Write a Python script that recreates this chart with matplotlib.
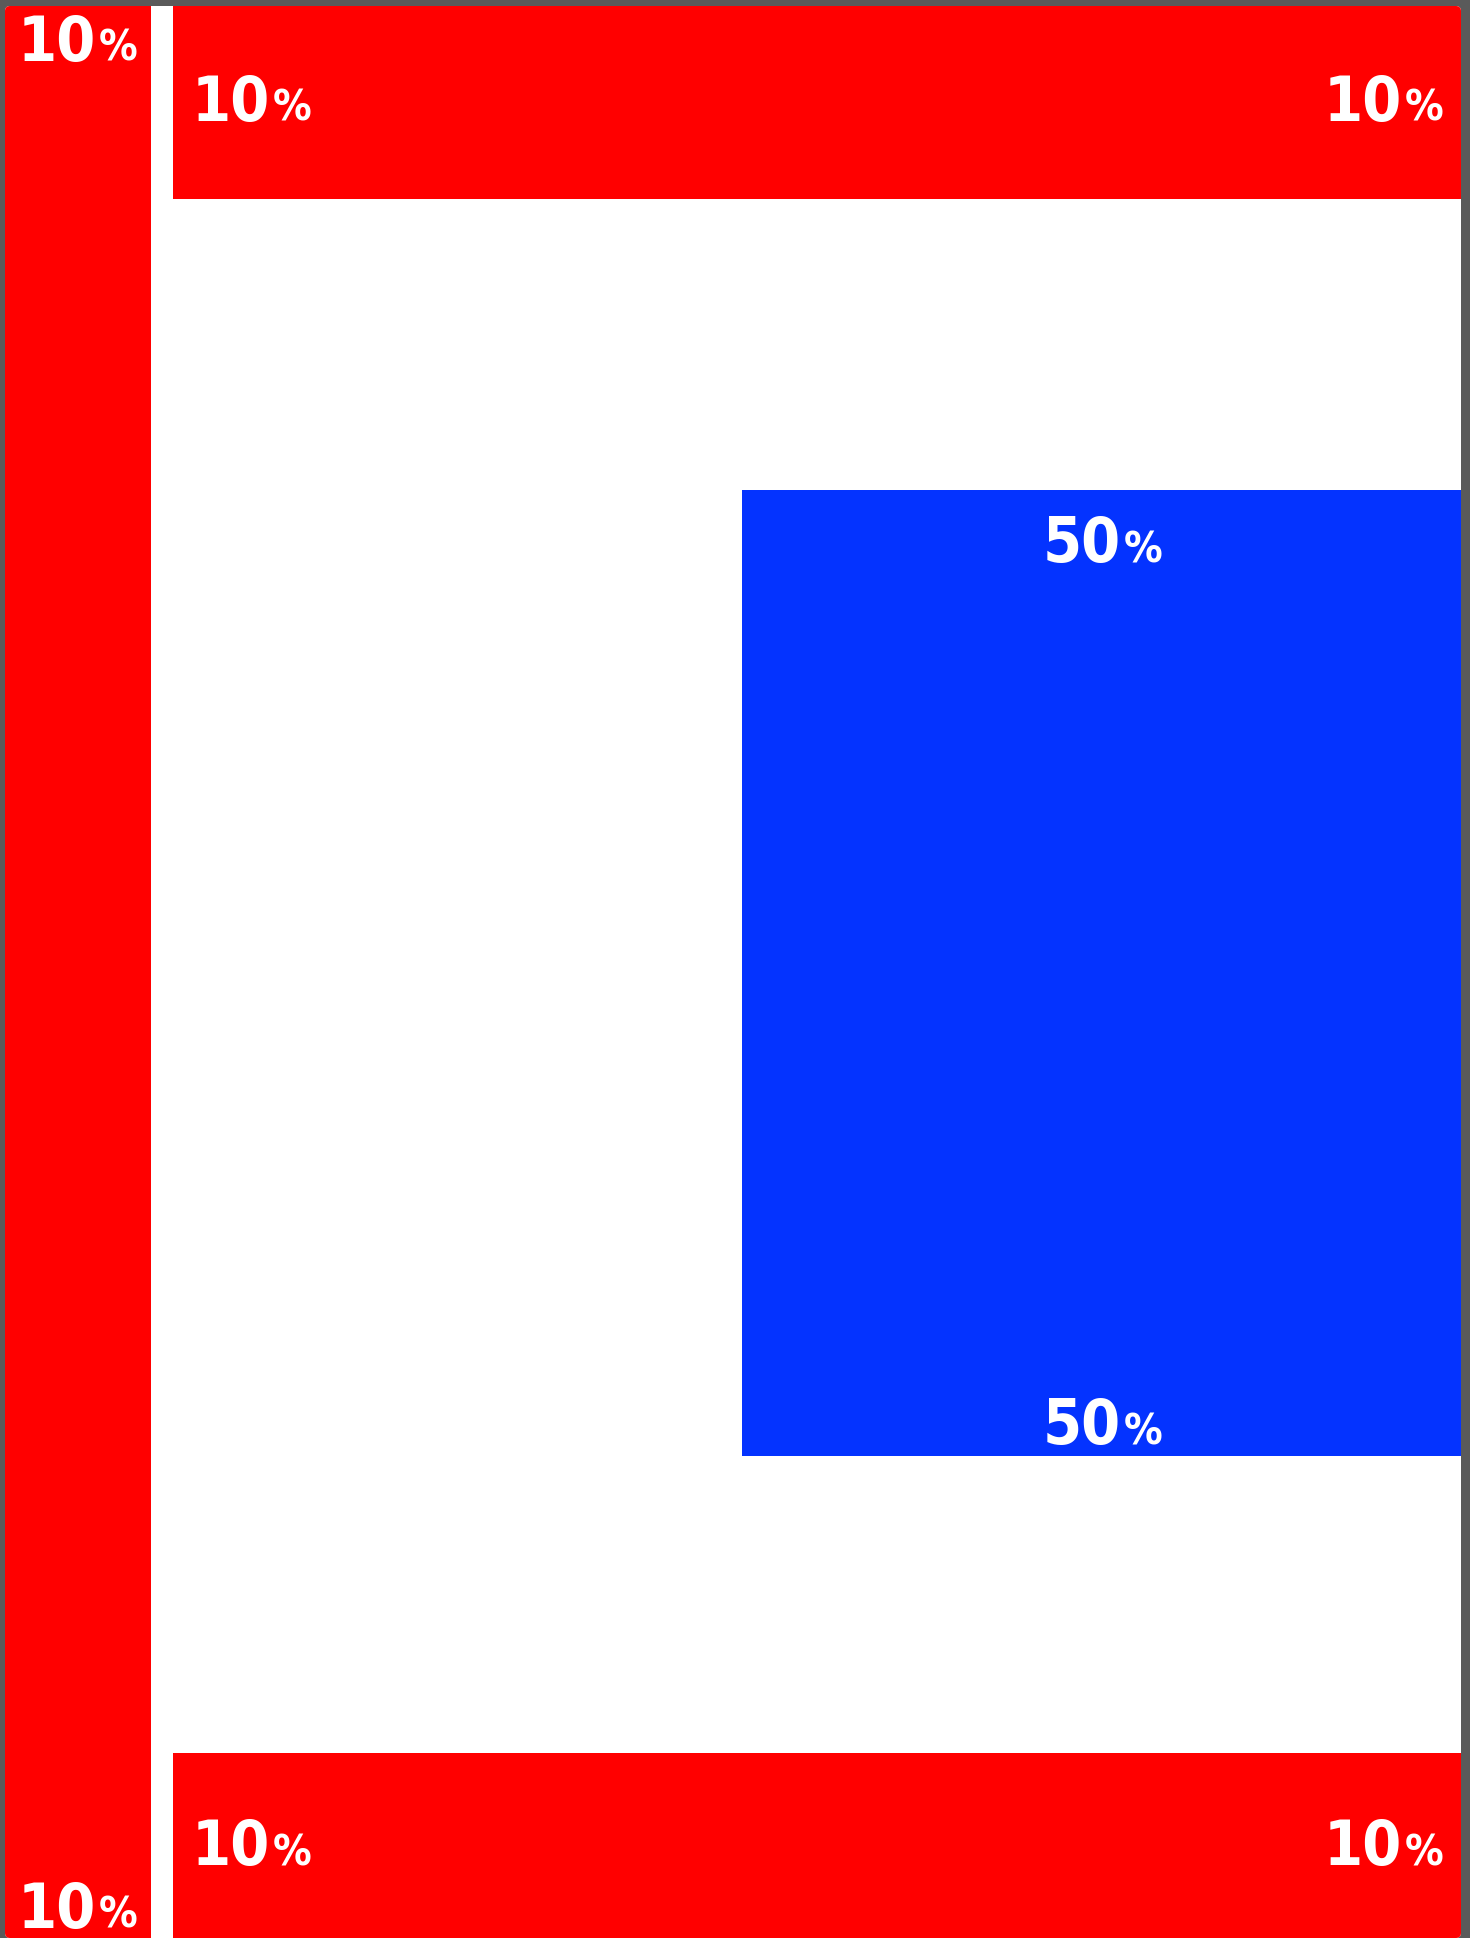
import matplotlib
matplotlib.use('Agg')
import matplotlib.pyplot as plt
from matplotlib.patches import Rectangle, FancyBboxPatch
from matplotlib.offsetbox import TextArea, HPacker, AnnotationBbox

###  DATA  ###

# share of the page taken by each block (percent)
blocks = ['left', 'top', 'bottom', 'center']
shares = [10, 10, 10, 50]
colors = ['#ff0000', '#ff0000', '#ff0000', '#0433ff']

# page edges in figure pixels
W, H = 1470, 1938
page_l, page_r, page_t, page_b = 5, 1461, 6, 1938

fig = plt.figure(figsize=(W/100., H/100.), dpi=100)
fig.patch.set_facecolor('#5a5a5a')
ax = fig.add_axes([page_l/W, 1-page_b/H, (page_r-page_l)/W, (page_b-page_t)/H])
ax.set_xlim(0, 100)
ax.set_ylim(100, 0)
ax.axis('off')

page = FancyBboxPatch((0, 0), 100, 100, boxstyle='round,pad=0,rounding_size=0.35',
                      fc='white', ec='none', mutation_aspect=1455/1932.)
ax.add_patch(page)

# block geometry (x0, y0, width, height) in page percent
s = dict(zip(blocks, shares))
c = dict(zip(blocks, colors))
geom = {
    'left':   (0, 0, s['left'], 100),
    'top':    (11.55, 0, 100-11.55, s['top']),
    'bottom': (11.55, 100-9.6, 100-11.55, 9.6),
    'center': (100-49.35, 25.05, 49.35, s['center']),
}
for b in blocks:
    x0, y0, w, h = geom[b]
    r = Rectangle((x0, y0), w, h, fc=c[b], ec='none')
    ax.add_patch(r)
    r.set_clip_path(page)

tp = dict(color='white', family='DejaVu Sans', stretch='condensed', weight='bold')

def label(val, x, y, align):
    num = TextArea(str(val), textprops=dict(tp, fontsize=45))
    pct = TextArea('%', textprops=dict(tp, fontsize=31))
    box = HPacker(children=[num, pct], align='baseline', pad=0, sep=2)
    ab = AnnotationBbox(box, (x, y), xycoords='data', box_alignment=align, frameon=False, pad=0)
    ax.add_artist(ab)

# two labels per block
label(s['left'], 5.0, 0.0, (0.5, 1.13))
label(s['left'], 5.0, 100.0, (0.5, 0.05))
label(s['top'], 12.85, 4.9, (0, 0.55))
label(s['top'], 98.8, 4.9, (1, 0.55))
label(s['bottom'], 12.85, 95.2, (0, 0.55))
label(s['bottom'], 98.8, 95.2, (1, 0.55))
label(s['center'], 75.4, 26.35, (0.5, 1.0))
label(s['center'], 75.4, 74.5, (0.5, 0.2))

plt.savefig('out.png', dpi=100, facecolor=fig.get_facecolor())
